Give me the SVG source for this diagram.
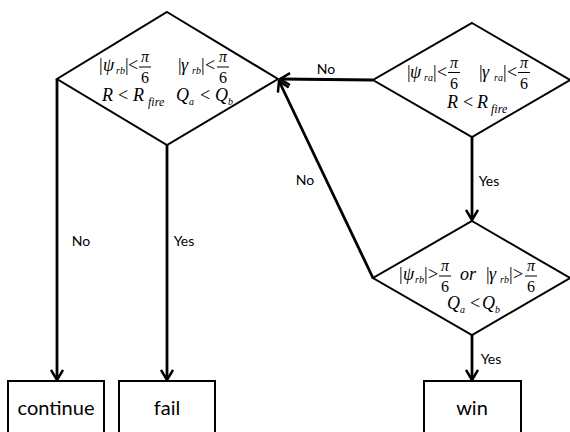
<svg xmlns="http://www.w3.org/2000/svg" width="570" height="432" viewBox="0 0 570 432">
<style>
.shape{fill:none;stroke:#000;stroke-width:2}
.conn{fill:none;stroke:#000;stroke-width:2.8}
.m{font-family:"Liberation Serif",serif;font-size:18px;fill:#000}
.i{font-style:italic}
.s{font-size:10px;font-style:italic}
.sf{font-size:12px;font-style:italic}
.f{font-family:"Liberation Serif",serif;font-size:16px;fill:#000;text-anchor:middle}
.lbl{font-family:Lato,"Open Sans",sans-serif;font-size:14px;fill:#000;text-anchor:middle}
.box{font-family:Lato,"Open Sans",sans-serif;font-size:20px;fill:#000;text-anchor:middle}
.bar{stroke:#000;stroke-width:1}
</style>
<defs>
<marker id="arr" viewBox="0 0 12 14" refX="11" refY="7" markerWidth="12" markerHeight="14" orient="auto" markerUnits="userSpaceOnUse">
<path d="M1,1 L11,7 L1,13" fill="none" stroke="#000" stroke-width="2.5"/>
</marker>
</defs>
<g id="connectors">
<line class="conn" x1="57" y1="79" x2="57" y2="380" marker-end="url(#arr)"/>
<line class="conn" x1="167" y1="145" x2="167" y2="380" marker-end="url(#arr)"/>
<line class="conn" x1="373" y1="80" x2="280" y2="79" marker-end="url(#arr)"/>
<line class="conn" x1="472" y1="137" x2="472" y2="220" marker-end="url(#arr)"/>
<line class="conn" x1="373" y1="278" x2="279" y2="81" marker-end="url(#arr)"/>
<line class="conn" x1="472" y1="335" x2="472" y2="380" marker-end="url(#arr)"/>
<text class="lbl" x="81" y="246">No</text>
<text class="lbl" x="184" y="246">Yes</text>
<text class="lbl" x="326" y="74">No</text>
<text class="lbl" x="305" y="185">No</text>
<text class="lbl" x="489" y="186">Yes</text>
<text class="lbl" x="491" y="364">Yes</text>
</g>
<g id="d1">
<polygon class="shape" points="167,12 278,79 167,145 57,79"/>
<text class="m" y="71"><tspan x="99">|</tspan><tspan x="103" class="i">ψ</tspan><tspan x="116" class="s" dy="3">rb</tspan><tspan x="125" dy="-3">|</tspan><tspan x="128">&lt;</tspan></text>
<text class="f i" x="145" y="62">π</text><line class="bar" x1="139" y1="67" x2="151" y2="67"/><text class="f" x="145" y="83">6</text>
<text class="m" y="71"><tspan x="178">|</tspan><tspan x="181" class="i">γ</tspan><tspan x="192" class="s" dy="3">rb</tspan><tspan x="201" dy="-3">|</tspan><tspan x="205">&lt;</tspan></text>
<text class="f i" x="223" y="62">π</text><line class="bar" x1="217" y1="67" x2="229" y2="67"/><text class="f" x="223" y="83">6</text>
<text class="m" y="101"><tspan x="102" class="i">R</tspan><tspan x="118">&lt;</tspan><tspan x="133" class="i">R</tspan><tspan x="148" class="sf" dy="5">fire</tspan></text>
<text class="m" y="101"><tspan x="176" class="i">Q</tspan><tspan x="189" class="s" dy="4">a</tspan><tspan x="200" dy="-4">&lt;</tspan><tspan x="215" class="i">Q</tspan><tspan x="228" class="s" dy="4">b</tspan></text>
</g>
<g id="d2">
<polygon class="shape" points="472,23 570,80 472,137 373,80"/>
<text class="m" y="78"><tspan x="407">|</tspan><tspan x="410" class="i">ψ</tspan><tspan x="424" class="s" dy="3">ra</tspan><tspan x="433" dy="-3">|</tspan><tspan x="437">&lt;</tspan></text>
<text class="f i" x="454" y="68">π</text><line class="bar" x1="448" y1="72.5" x2="460" y2="72.5"/><text class="f" x="454" y="89">6</text>
<text class="m" y="78"><tspan x="479">|</tspan><tspan x="482" class="i">γ</tspan><tspan x="494" class="s" dy="3">ra</tspan><tspan x="503" dy="-3">|</tspan><tspan x="507">&lt;</tspan></text>
<text class="f i" x="524" y="68">π</text><line class="bar" x1="518" y1="72.5" x2="530" y2="72.5"/><text class="f" x="524" y="89">6</text>
<text class="m" y="108"><tspan x="447" class="i">R</tspan><tspan x="463">&lt;</tspan><tspan x="477" class="i">R</tspan><tspan x="491" class="sf" dy="5">fire</tspan></text>
</g>
<g id="d3">
<polygon class="shape" points="472,221 570,278 472,335 373,278"/>
<text class="m" y="280"><tspan x="399">|</tspan><tspan x="403" class="i">ψ</tspan><tspan x="415" class="s" dy="3">rb</tspan><tspan x="424" dy="-3">|</tspan><tspan x="428">&gt;</tspan></text>
<text class="f i" x="445" y="271">π</text><line class="bar" x1="439" y1="276" x2="451" y2="276"/><text class="f" x="445" y="292">6</text>
<text class="m i" x="460" y="280">or</text>
<text class="m" y="280"><tspan x="486">|</tspan><tspan x="489" class="i">γ</tspan><tspan x="500" class="s" dy="3">rb</tspan><tspan x="509" dy="-3">|</tspan><tspan x="513">&gt;</tspan></text>
<text class="f i" x="531" y="271">π</text><line class="bar" x1="525" y1="276" x2="537" y2="276"/><text class="f" x="531" y="292">6</text>
<text class="m" y="309"><tspan x="447" class="i">Q</tspan><tspan x="460" class="s" dy="4">a</tspan><tspan x="470" dy="-4">&lt;</tspan><tspan x="482" class="i">Q</tspan><tspan x="495" class="s" dy="4">b</tspan></text>
</g>
<g id="continue">
<rect class="shape" x="8" y="381" width="96" height="56"/>
<text class="box" x="56" y="415">continue</text>
</g>
<g id="fail">
<rect class="shape" x="119" y="381" width="96" height="56"/>
<text class="box" x="167" y="415">fail</text>
</g>
<g id="win">
<rect class="shape" x="424" y="381" width="97" height="56"/>
<text class="box" x="472" y="415">win</text>
</g>
</svg>
